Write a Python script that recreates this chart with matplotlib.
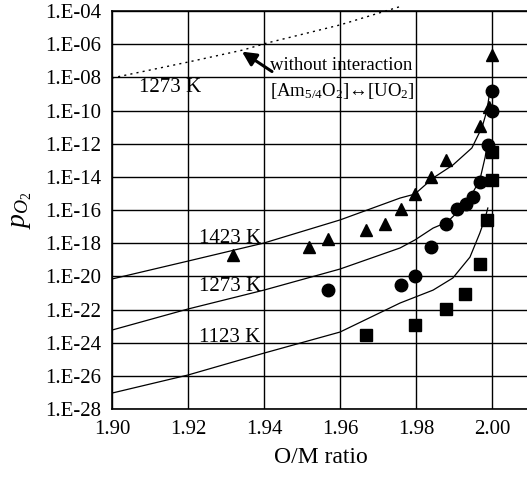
import numpy as np
import matplotlib.pyplot as plt
from matplotlib.ticker import FixedLocator, NullLocator

plt.rcParams['font.family'] = ['Liberation Serif', 'DejaVu Serif']
plt.rcParams['mathtext.fontset'] = 'custom'
plt.rcParams['mathtext.rm'] = 'Liberation Serif'
plt.rcParams['mathtext.it'] = 'Liberation Serif:italic'

# measured points (log10 pO2)
tri_x = [1.9319, 1.9519, 1.9569, 1.9669, 1.9719, 1.9760, 1.9797, 1.9840, 1.9879, 1.9968, 1.9993, 2.0000]
tri_y = [-18.72, -18.23, -17.75, -17.20, -16.85, -15.94, -15.04, -14.00, -12.99, -10.94, -9.80, -6.65]

circ_x = [1.9569, 1.9760, 1.9797, 1.9840, 1.9879, 1.9908, 1.9932, 1.9950, 1.9968, 1.9990, 2.0000, 2.0000]
circ_y = [-20.83, -20.53, -19.98, -18.23, -16.85, -15.94, -15.64, -15.22, -14.31, -12.10, -10.03, -8.80]

sq_x = [1.9669, 1.9797, 1.9879, 1.9929, 1.9968, 1.9987, 2.0000, 2.0000]
sq_y = [-23.54, -22.94, -21.97, -21.07, -19.26, -16.60, -14.19, -12.50]

# model curves
c1423_x = [1.900, 1.920, 1.940, 1.960, 1.9758, 1.9797, 1.9845, 1.9897, 1.9947, 1.9974, 1.9987, 1.9992]
c1423_y = [-20.16, -19.08, -17.99, -16.60, -15.28, -15.04, -14.07, -13.29, -12.26, -11.00, -9.97, -9.19]

c1273_x = [1.900, 1.920, 1.940, 1.960, 1.9758, 1.9797, 1.9845, 1.9882, 1.9934, 1.9968, 1.9982, 1.9989]
c1273_y = [-23.24, -21.97, -20.83, -19.56, -18.29, -17.81, -17.09, -16.73, -15.58, -14.19, -12.81, -11.78]

c1123_x = [1.900, 1.920, 1.940, 1.960, 1.9758, 1.9845, 1.9897, 1.9942, 1.9968, 1.9982, 1.9989]
c1123_y = [-27.04, -25.95, -24.63, -23.36, -21.61, -20.83, -20.10, -18.84, -17.39, -16.48, -15.88]

free_x = [1.900, 1.920, 1.9345, 1.9408, 1.960, 1.9763]
free_y = [-8.04, -7.08, -6.35, -5.93, -4.84, -3.70]

yticks = list(range(-28, -3, 2))

fig = plt.figure(figsize=(5.27, 4.78), dpi=100)
ax = fig.add_axes([112/527, 1 - 409/478, (530 - 112)/527, (409 - 11)/478])

def p(v):
    return 10.0 ** np.array(v)

ax.plot(c1423_x, p(c1423_y), color='black', lw=0.9)
ax.plot(c1273_x, p(c1273_y), color='black', lw=0.9)
ax.plot(c1123_x, p(c1123_y), color='black', lw=0.9)
ax.plot(free_x, p(free_y), color='black', lw=1.0, ls=(0, (1.5, 3)), clip_on=False)

ax.plot(tri_x, p(tri_y), '^', color='black', ms=9, clip_on=False)
ax.plot(circ_x, p(circ_y), 'o', color='black', ms=9, clip_on=False)
ax.plot(sq_x, p(sq_y), 's', color='black', ms=8, clip_on=False)

ax.set_yscale('log')
ax.set_xlim(1.90, 2.01)
ax.set_ylim(1e-28, 1e-4)
ax.yaxis.set_major_locator(FixedLocator([10.0 ** e for e in yticks]))
ax.yaxis.set_minor_locator(NullLocator())
ax.set_yticklabels(['1.E%03d' % e for e in yticks])
ax.set_xticks([1.90, 1.92, 1.94, 1.96, 1.98, 2.00])
ax.set_xticklabels(['1.90', '1.92', '1.94', '1.96', '1.98', '2.00'])
ax.tick_params(length=0, labelsize=15, pad=8)
ax.grid(True, color='black', lw=1.0)
ax.spines['right'].set_visible(False)
for s in ['left', 'bottom', 'top']:
    ax.spines[s].set_linewidth(1.2)

ax.set_xlabel('O/M ratio', fontsize=17, labelpad=6)
ax.set_ylabel(r'$p_{O_2}$', fontsize=20, labelpad=8)

ax.text(1.9228, 10 ** -17.7, '1423 K', fontsize=15, va='center')
ax.text(1.9228, 10 ** -20.6, '1273 K', fontsize=15, va='center')
ax.text(1.9228, 10 ** -23.7, '1123 K', fontsize=15, va='center')
ax.text(1.9072, 10 ** -8.6, '1273 K', fontsize=15, va='center')

# arrow pointing at the dotted line
ax.annotate('', xy=(1.9342, 10 ** -6.45), xytext=(1.9421, 10 ** -7.65),
            arrowprops=dict(arrowstyle='-|>,head_length=0.6,head_width=0.3', color='black',
                            lw=2.2, shrinkA=0, shrinkB=0, mutation_scale=14))
ax.text(1.9415, 10 ** -7.3, 'without interaction', fontsize=13.5, va='center')
ax.text(1.9415, 10 ** -8.8, r'[Am$_{5/4}$O$_2$]↔[UO$_2$]', fontsize=13.5, va='center')

fig.savefig('out.png', dpi=100)
